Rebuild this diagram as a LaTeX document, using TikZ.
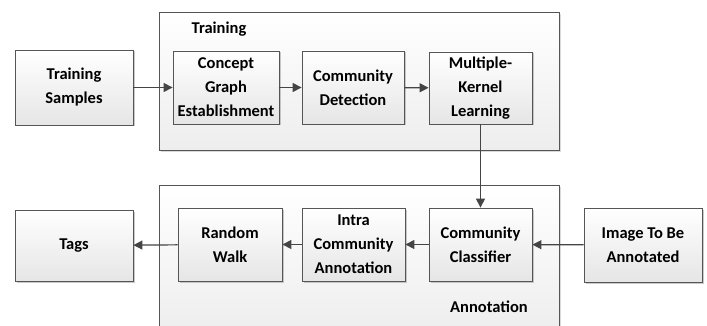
\documentclass[tikz,border=0pt]{standalone}
\usepackage{fontspec}
\setmainfont{Carlito}
\usetikzlibrary{arrows.meta,shadows,positioning}
\definecolor{edge}{HTML}{555555}
\definecolor{arr}{HTML}{444444}
\tikzset{
  blk/.style={draw=edge,line width=0.8pt,top color=white,bottom color=black!10,
    drop shadow={shadow xshift=1.5pt,shadow yshift=-1.5pt,fill=black!35,opacity=0.6},
    align=center,font=\fontsize{16.5}{24}\selectfont\bfseries,inner sep=0pt},
  grp/.style={draw=edge,line width=0.8pt,top color=white,bottom color=black!7,
    drop shadow={shadow xshift=1.5pt,shadow yshift=-1.5pt,fill=black!25,opacity=0.6}},
  lbl/.style={font=\fontsize{16.5}{18}\selectfont\bfseries,inner sep=0pt},
  conn/.style={draw=arr,line width=1.2pt,-{Triangle[length=9pt,width=9pt]}},
}
\begin{document}
\begin{tikzpicture}[x=1pt,y=-1pt]
\useasboundingbox (0,0) rectangle (707,326);
% containers
\node[grp,minimum width=400pt,minimum height=138pt,anchor=north west] (train) at (159,12) {};
\node[grp,minimum width=400pt,minimum height=150pt,anchor=north west] (annot) at (159,185) {};
\node[lbl] (trainlbl) at (219,29) {Training};
\node[lbl] (annotlbl) at (489,307) {Annotation};
% top row
\node[blk,minimum width=118pt,minimum height=75pt] (ts) at (74,87.5) {Training\\Samples};
\node[blk,minimum width=106pt,minimum height=73pt] (cg) at (226,87.5) {Concept\\Graph\\Establishment};
\node[blk,minimum width=102pt,minimum height=73pt] (cd) at (353,87.5) {Community\\Detection};
\node[blk,minimum width=103pt,minimum height=72pt] (mk) at (480.5,88) {Multiple-\\Kernel\\Learning};
% bottom row
\node[blk,minimum width=118pt,minimum height=71pt] (tags) at (74,245.5) {Tags};
\node[blk,minimum width=104pt,minimum height=73pt] (rw) at (230,244.5) {Random\\Walk};
\node[blk,minimum width=103pt,minimum height=73pt] (ica) at (353.5,244.5) {Intra\\Community\\Annotation};
\node[blk,minimum width=103pt,minimum height=73pt] (cc) at (480.5,244.5) {Community\\Classifier};
\node[blk,minimum width=118pt,minimum height=74pt] (img) at (643,245) {Image To Be\\Annotated};
% connectors
\draw[conn] (ts) -- (cg);
\draw[conn] (cg) -- (cd);
\draw[conn] (cd) -- (mk);
\draw[conn] (mk.south) -- (cc.north);
\draw[conn] (img) -- (cc);
\draw[conn] (cc) -- (ica);
\draw[conn] (ica) -- (rw);
\draw[conn] (rw) -- (tags);
\end{tikzpicture}
\end{document}
